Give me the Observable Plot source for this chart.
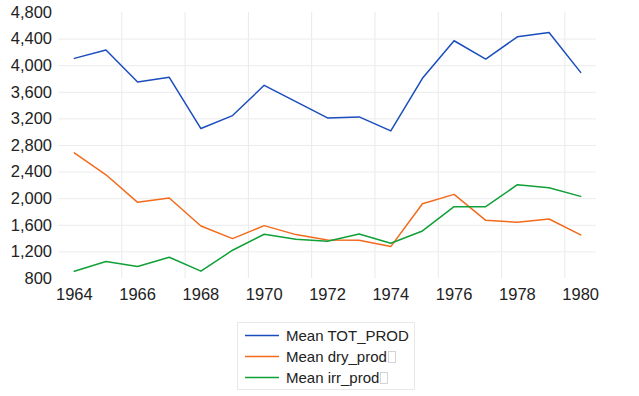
<!DOCTYPE html>
<html><head><meta charset="utf-8">
<script src="https://cdn.jsdelivr.net/npm/d3@7"></script>
<script src="https://cdn.jsdelivr.net/npm/@observablehq/plot@0.6"></script>
<style>
body{margin:0;background:#fff;font-family:Arial,"Liberation Sans",sans-serif;}
#wrap{position:relative;width:639px;height:396px;overflow:hidden;}
#legend{position:absolute;left:237px;top:322px;width:176px;height:66px;border:1px solid #e8e8e8;box-sizing:content-box;}
.row{position:absolute;left:0;height:21px;line-height:21px;font-size:15px;color:#222;white-space:nowrap;}
.row svg{position:absolute;left:7px;top:0;}
.row span.t{position:absolute;left:48px;top:0;}
.tofu{display:inline-block;width:6px;height:10px;border:1px solid #d4d4d4;margin-left:1px;vertical-align:-1px;}
</style></head>
<body><div id="wrap"><div id="chart"></div><div id="legend"></div></div>
<script>
const years = [1964,1965,1966,1967,1968,1969,1970,1971,1972,1973,1974,1975,1976,1977,1978,1979,1980];
const totProd = [4110,4235,3755,3825,3055,3250,3705,3460,3215,3230,3020,3810,4375,4100,4435,4500,3900];
const dryProd = [2690,2360,1945,2010,1590,1400,1595,1460,1380,1375,1280,1925,2065,1675,1645,1695,1455];
const irrProd = [910,1055,980,1120,910,1225,1465,1390,1360,1470,1330,1515,1880,1880,2210,2165,2035];
const seriesNames = ["Mean TOT_PROD","Mean dry_prod","Mean irr_prod"];
const seriesColors = ["#1a4dbd","#f26b1d","#10a038"];
const yTicks = [800,1200,1600,2000,2400,2800,3200,3600,4000,4400,4800];
const xTicks = [1964,1966,1968,1970,1972,1974,1976,1978,1980];

const seriesValues = [totProd, dryProd, irrProd];
const data = [];
seriesNames.forEach((s, i) => years.forEach((y, j) => data.push({series: s, year: y, value: seriesValues[i][j]})));
const xGrid = xTicks.slice(0, -1).map(d => d + 1.5);

const chart = Plot.plot({
  width: 639, height: 310,
  marginLeft: 58, marginRight: 43, marginTop: 12, marginBottom: 32,
  style: {fontFamily: "Arial, 'Liberation Sans', sans-serif", background: "#fff"},
  x: {domain: [years[0] - 0.5, years[years.length - 1] + 0.5], label: null},
  y: {domain: [yTicks[0], yTicks[yTicks.length - 1]], label: null},
  color: {domain: seriesNames, range: seriesColors},
  marks: [
    Plot.gridX(xGrid, {stroke: "#e9e9e9", strokeOpacity: 1}),
    Plot.gridY(yTicks.slice(1, -1), {stroke: "#ececec", strokeOpacity: 1}),
    Plot.axisX(xTicks, {tickSize: 0, tickPadding: 10, tickFormat: d => String(d), fontSize: 16.5, fill: "#222", label: null}),
    Plot.axisY(yTicks, {tickSize: 0, tickPadding: 6.5, tickFormat: d3.format(","), fontSize: 16.5, fill: "#222", label: null}),
    Plot.line(data, {x: "year", y: "value", z: "series", stroke: "series", strokeWidth: 1.5})
  ]
});
document.getElementById("chart").appendChild(chart);

const legend = d3.select("#legend");
seriesNames.forEach((name, i) => {
  const row = legend.append("div").attr("class", "row").style("top", (2 + 21 * i) + "px");
  const svg = row.append("svg").attr("width", 36).attr("height", 21);
  svg.append("line").attr("x1", 0).attr("x2", 34).attr("y1", 10.5).attr("y2", 10.5)
    .attr("stroke", seriesColors[i]).attr("stroke-width", 1.5);
  const t = row.append("span").attr("class", "t").text(name);
  if (i > 0) t.append("span").attr("class", "tofu");
});
</script>
</body></html>
